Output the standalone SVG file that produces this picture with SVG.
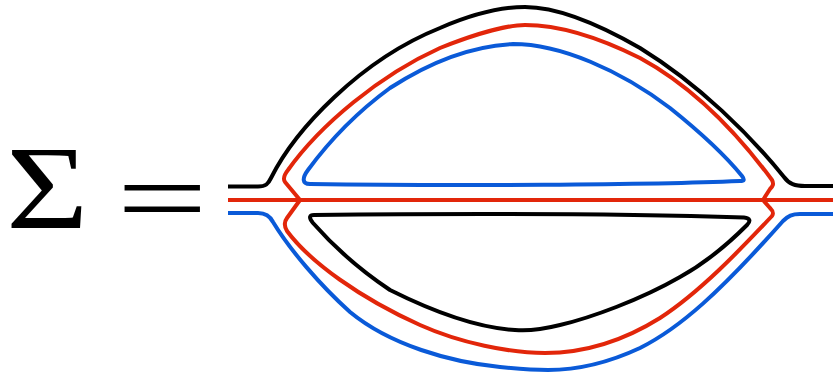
<svg xmlns="http://www.w3.org/2000/svg" width="833" height="373" viewBox="0 0 833 373">
<style>
.ln{fill:none;stroke-width:4;stroke-linecap:butt;stroke-linejoin:round}
.k{stroke:#000}
.r{stroke:#e2260a}
.b{stroke:#0a5ad8}
.t{font-family:"Liberation Serif","Times New Roman",serif;fill:#000}
</style>
<rect width="833" height="373" fill="#fff"/>
<g id="lhs">
<text class="t" transform="translate(6,228) scale(1.2,1)" font-size="118">Σ</text>
<text class="t" transform="translate(116.4,233.5) scale(1.5,1)" font-size="108">=</text>
</g>
<g id="connectors">
<path id="black-outer" class="ln k" d="M228,186.5 L258,186.5 C266,186.5 268,184 271,178 C295,130 360,60 440,28 C470,15 500,7 525,7 C560,7 600,25 640,48 C700,85 750,135 784,177 C789,184 795,186 805,186 L833,186"/>
<path id="red-line" class="ln r" d="M228,200 L833,200"/>
<path id="red-top" class="ln r" d="M300,200 L285,182 C283,179 284,175 288,170 C320,125 380,75 440,48 C480,32 510,25 525,25 C560,25 600,38 640,58 C690,85 735,130 772,180 C774,184 773,186 770,189 L763,200"/>
<path id="red-bottom" class="ln r" d="M300,200 L287,218 C284,222 284,226 287,231 C310,262 360,298 420,325 C460,343 510,353 545,353 C580,353 620,343 660,318 C700,292 740,250 772,216 C774,213 773,211 770,208 L763,200"/>
<path id="blue-inner" class="ln b" d="M740,181 C650,185 450,186 310,184 C302,184 302,178 308,170 C330,140 360,110 390,88 C430,62 470,46 513,44 C560,44 620,70 670,108 C700,132 725,155 742,176 C745,180 744,181 740,181 Z"/>
<path id="blue-outer" class="ln b" d="M228,213 L258,213 C266,213 270,216 273,222 C290,250 320,285 350,312 C390,345 450,362 500,367 C520,369 540,370 548,370 C580,370 610,362 640,348 C680,328 720,292 783,221 C788,216 792,214 800,214 L833,214"/>
<path id="black-inner" class="ln k" d="M314,215 C450,213.5 600,213 744,217.5 C750,218 751,221 747,225 C720,252 700,266 680,277 C640,300 590,318 560,325 C540,330 525,331 515,330 C480,328 440,315 390,290 C360,270 335,248 313,223 C308,217 310,215 314,215 Z"/>
</g>
</svg>
